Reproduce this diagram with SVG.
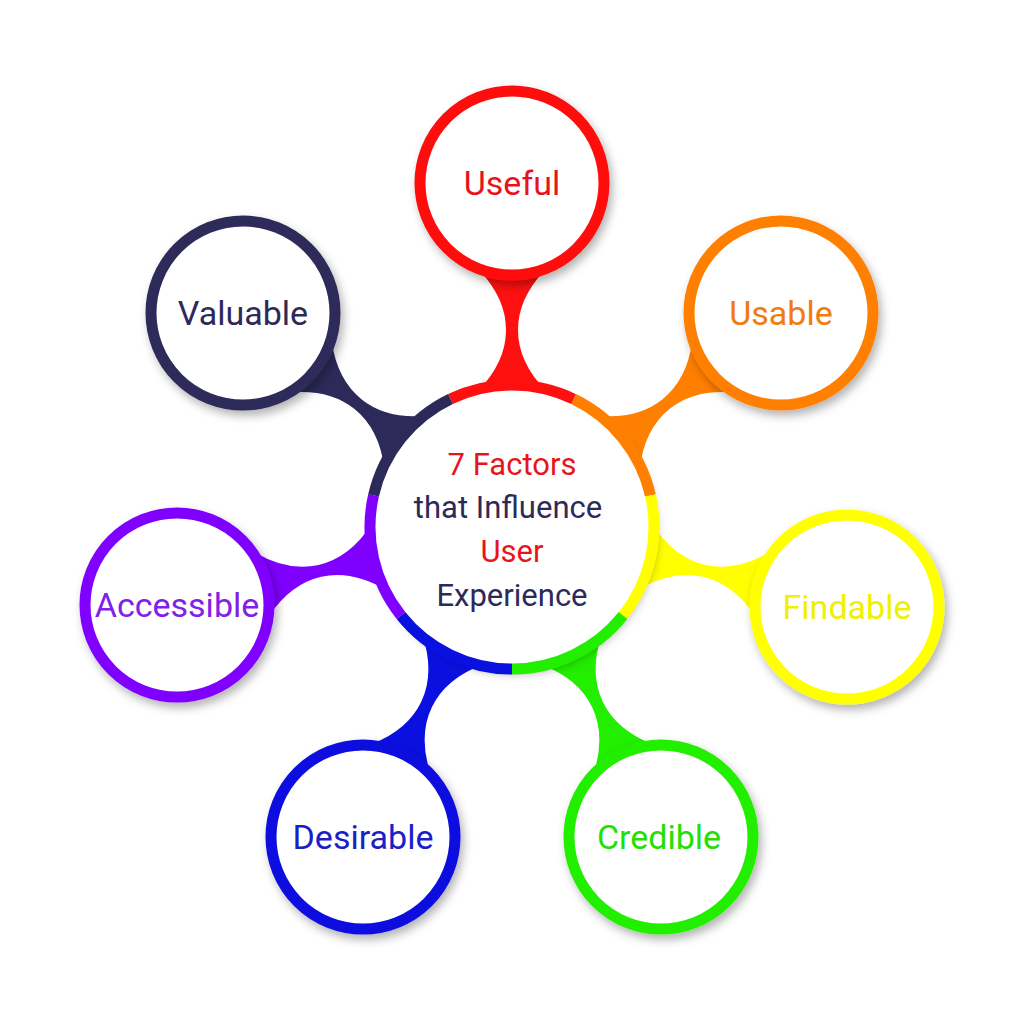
<svg xmlns="http://www.w3.org/2000/svg" width="1024" height="1024" viewBox="0 0 1024 1024">
<defs>
<filter id="sh" x="-30%" y="-30%" width="160%" height="160%"><feDropShadow dx="3" dy="5" stdDeviation="5" flood-color="#000" flood-opacity="0.3"/></filter>
<path id="stem" d="M -34,-136 Q -6,-165 -6,-197 Q -6,-228 -32,-256 L 32,-256 Q 6,-228 6,-197 Q 6,-165 34,-136 Z"/>
</defs>
<style>
.node{fill:#fff;stroke-width:11;filter:url(#sh)}
.lbl{font-family:Roboto,"Liberation Sans",sans-serif;font-size:34px;text-anchor:middle;dominant-baseline:central}
.seg{fill:none;stroke-width:11;stroke-dasharray:127.46 764.75}
</style>
<rect width="1024" height="1024" fill="#fff"/>
<g id="connectors">
<use href="#stem" fill="#ff1010" transform="translate(512,527) rotate(0)"/>
<use href="#stem" fill="#ff7f00" transform="translate(512,527) rotate(51.43)"/>
<use href="#stem" fill="#ffff00" transform="translate(512,527) rotate(102.86)"/>
<use href="#stem" fill="#22ee00" transform="translate(512,527) rotate(154.29)"/>
<use href="#stem" fill="#0a10e0" transform="translate(512,527) rotate(205.71)"/>
<use href="#stem" fill="#8000ff" transform="translate(512,527) rotate(257.14)"/>
<use href="#stem" fill="#2d2a5a" transform="translate(512,527) rotate(308.57)"/>
</g>
<g id="center">
<circle cx="512" cy="527" r="142" fill="#fff" filter="url(#sh)"/>
<circle class="seg" cx="512" cy="527" r="142" stroke="#ff1010" transform="rotate(-115.71 512 527)"/>
<circle class="seg" cx="512" cy="527" r="142" stroke="#ff7f00" transform="rotate(-64.29 512 527)"/>
<circle class="seg" cx="512" cy="527" r="142" stroke="#ffff00" transform="rotate(-12.86 512 527)"/>
<circle class="seg" cx="512" cy="527" r="142" stroke="#22ee00" transform="rotate(38.57 512 527)"/>
<circle class="seg" cx="512" cy="527" r="142" stroke="#0a10e0" transform="rotate(90 512 527)"/>
<circle class="seg" cx="512" cy="527" r="142" stroke="#8000ff" transform="rotate(141.43 512 527)"/>
<circle class="seg" cx="512" cy="527" r="142" stroke="#2d2a5a" transform="rotate(192.86 512 527)"/>
<text class="lbl" x="512" y="464" style="font-size:31px" fill="#e8141c">7 Factors</text>
<text class="lbl" x="508" y="507" style="font-size:31px" fill="#2d2a5a">that Influence</text>
<text class="lbl" x="512" y="551" style="font-size:31px" fill="#e8141c">User</text>
<text class="lbl" x="512" y="595" style="font-size:31px" fill="#2d2a5a">Experience</text>
</g>
<g id="useful"><circle class="node" cx="512" cy="183" r="92" stroke="#ff1010"/><text class="lbl" x="512" y="183" fill="#e8141c">Useful</text></g>
<g id="usable"><circle class="node" cx="781" cy="313" r="92" stroke="#ff7f00"/><text class="lbl" x="781" y="313" fill="#f07c10">Usable</text></g>
<g id="findable"><circle class="node" cx="847" cy="607" r="92" stroke="#ffff00"/><text class="lbl" x="847" y="607" fill="#f0f000">Findable</text></g>
<g id="credible"><circle class="node" cx="661" cy="837" r="92" stroke="#22ee00"/><text class="lbl" x="659" y="837" fill="#22e000">Credible</text></g>
<g id="desirable"><circle class="node" cx="363" cy="837" r="92" stroke="#0a10e0"/><text class="lbl" x="363" y="837" fill="#1a20c8">Desirable</text></g>
<g id="accessible"><circle class="node" cx="177" cy="605" r="92" stroke="#8000ff"/><text class="lbl" x="177" y="605" fill="#8020e8">Accessible</text></g>
<g id="valuable"><circle class="node" cx="243" cy="313" r="92" stroke="#2d2a5a"/><text class="lbl" x="243" y="313" fill="#2d2a5a">Valuable</text></g>
</svg>
